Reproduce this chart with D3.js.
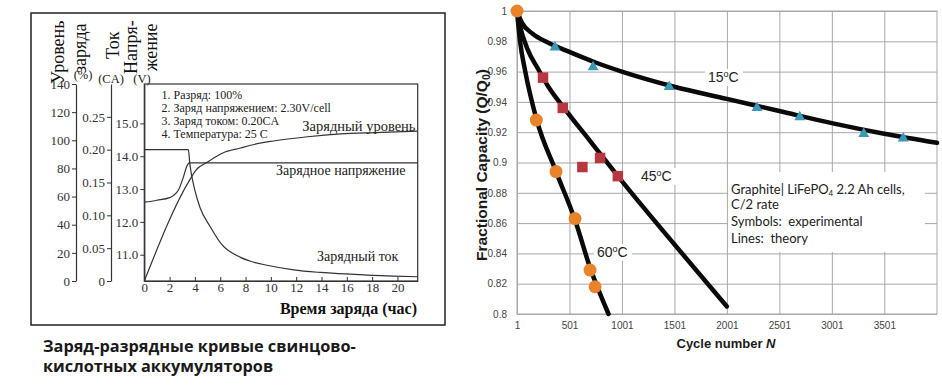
<!DOCTYPE html>
<html>
<head>
<meta charset="utf-8">
<script src="https://cdn.jsdelivr.net/npm/d3@7"></script>
<style>
	body { margin: 0; background: #fff; }
	svg { display: block; }
	.serif { font-family: "Liberation Serif", "DejaVu Serif", serif; }
	.sans { font-family: "Liberation Sans", Arial, sans-serif; }
</style>
</head>
<body>
<svg id="chart" width="942" height="391"></svg>
<script>
// ---- left panel: lead-acid charge curves ----
const hourTicks = [0, 2, 4, 6, 8, 10, 12, 14, 16, 18, 20]
const pctTicks = [0, 20, 40, 60, 80, 100, 120, 140]
const caTicks = [0, 0.05, 0.10, 0.15, 0.20, 0.25]
const voltTicks = [11, 12, 13, 14, 15]

const levelHours = [0, 3.6, 4.1, 4.9, 6.2, 7.6, 8.4, 10.2, 12.9, 15.5, 18.2, 21.6]
const levelPct = [0, 72, 79, 84, 91, 94.5, 96.5, 99.5, 102.5, 104.5, 105.5, 106.5]

const voltHours = [0, 1, 2, 2.3, 2.7, 3.1, 3.35, 3.56, 21.6]
const voltValues = [12.6, 12.66, 12.74, 12.8, 12.97, 13.38, 13.69, 13.8, 13.8]

const currHours = [0, 3.48, 3.6, 4.0, 4.4, 5.2, 6.1, 7.6, 8.4, 9.7, 11.8, 13.9, 17.6, 19.7, 21.6]
const currValues = [0.2, 0.2, 0.178, 0.138, 0.112, 0.083, 0.056, 0.036, 0.030, 0.024, 0.017, 0.013, 0.009, 0.0075, 0.0065]

const notes = ['1. Разряд: 100%', '2. Заряд напряжением: 2.30V/cell', '3. Заряд током: 0.20CA', '4. Температура: 25 C']

// ---- right panel: LiFePO4 capacity fade ----
const cycleTicks = [1, 501, 1001, 1501, 2001, 2501, 3001, 3501]
const capTicks = [0.8, 0.82, 0.84, 0.86, 0.88, 0.9, 0.92, 0.94, 0.96, 0.98, 1]

const th15Cycles = [1, 50, 150, 300, 500, 750, 1000, 1500, 2000, 2500, 3000, 3500, 4003]
const th15Cap = [1.0, 0.992, 0.985, 0.979, 0.973, 0.966, 0.960, 0.950, 0.942, 0.934, 0.926, 0.919, 0.913]
const th45Cycles = [1, 30, 100, 200, 300, 437, 700, 962, 1500, 2001]
const th45Cap = [1.0, 0.99, 0.975, 0.962, 0.950, 0.937, 0.914, 0.891, 0.846, 0.805]
const th60Cycles = [1, 30, 80, 185, 373, 554, 700, 873]
const th60Cap = [1.0, 0.98, 0.96, 0.929, 0.894, 0.862, 0.830, 0.8]

const exp15Cycles = [363, 726, 1451, 2288, 2695, 3305, 3681]
const exp15Cap = [0.976, 0.963, 0.950, 0.936, 0.930, 0.919, 0.916]
const exp45Cycles = [249, 437, 624, 793, 962]
const exp45Cap = [0.956, 0.936, 0.897, 0.903, 0.891]
const exp60Cycles = [1, 185, 373, 554, 697, 745]
const exp60Cap = [1.0, 0.928, 0.894, 0.863, 0.829, 0.818]

const zip = (xs, ys) => xs.map((x, i) => [x, ys[i]])

const svg = d3.select('#chart')

// ================= left panel =================
const left = svg.append('g')
left.append('rect').attr('x', 31).attr('y', 13).attr('width', 414).attr('height', 312)
	.attr('fill', 'none').attr('stroke', '#222').attr('stroke-width', 1.5)

const lx = d3.scaleLinear().domain([0, 21.6]).range([144.3, 417.7])
const lyPct = d3.scaleLinear().domain([0, 140]).range([281, 84])
const lyCA = d3.scaleLinear().domain([0, 0.3]).range([281, 84])
const lyV = d3.scaleLinear().domain([10.2, 16.2]).range([281, 84])

left.append('rect').attr('x', lx(0)).attr('y', 84).attr('width', lx(21.6) - lx(0)).attr('height', 281 - 84)
	.attr('fill', 'none').attr('stroke', '#333').attr('stroke-width', 1.2)

function styleLeftAxis(g) {
	g.attr('class', 'serif').attr('font-size', 13)
	g.select('.domain').attr('stroke', '#333').attr('stroke-width', 1.2)
	g.selectAll('.tick line').attr('stroke', '#333')
	g.selectAll('.tick text').attr('fill', '#333').attr('font-family', null)
}

left.append('g').attr('transform', 'translate(76,0)')
	.call(d3.axisLeft(lyPct).tickValues(pctTicks).tickSize(4).tickSizeOuter(0).tickPadding(2))
	.call(styleLeftAxis)
left.append('g').attr('transform', 'translate(111,0)')
	.call(d3.axisLeft(lyCA).tickValues(caTicks).tickSize(4).tickSizeOuter(0).tickPadding(2)
		.tickFormat(d => d === 0 ? '0' : d3.format('.2f')(d)))
	.call(styleLeftAxis)
left.append('g').attr('transform', `translate(${lx(0)},0)`)
	.call(d3.axisLeft(lyV).tickValues(voltTicks).tickSize(4).tickSizeOuter(0).tickPadding(2).tickFormat(d3.format('.1f')))
	.call(styleLeftAxis)
left.append('g').attr('transform', 'translate(0,281)')
	.call(d3.axisBottom(lx).tickValues(hourTicks).tickSize(-4).tickSizeOuter(0).tickPadding(2))
	.call(styleLeftAxis)

const curve = d3.curveMonotoneX
left.append('path').datum(zip(levelHours, levelPct))
	.attr('d', d3.line().x(d => lx(d[0])).y(d => lyPct(d[1])).curve(curve))
	.attr('fill', 'none').attr('stroke', '#333').attr('stroke-width', 1.2)
left.append('path').datum(zip(voltHours, voltValues))
	.attr('d', d3.line().x(d => lx(d[0])).y(d => lyV(d[1])).curve(curve))
	.attr('fill', 'none').attr('stroke', '#333').attr('stroke-width', 1.2)
left.append('path').datum(zip(currHours, currValues))
	.attr('d', d3.line().x(d => lx(d[0])).y(d => lyCA(d[1])).curve(curve))
	.attr('fill', 'none').attr('stroke', '#333').attr('stroke-width', 1.2)

// notes inside the plot
left.selectAll('text.note').data(notes).join('text')
	.attr('class', 'note serif').attr('x', 161.5).attr('y', (d, i) => 98.5 + i * 13)
	.attr('font-size', 12).attr('fill', '#222').text(d => d)

const curveLabels = [
	{text: 'Зарядный уровень', x: 415.5, y: 131, size: 14.5, anchor: 'end'},
	{text: 'Зарядное напряжение', x: 276, y: 175, size: 14, anchor: 'start'},
	{text: 'Зарядный ток', x: 317, y: 260.5, size: 14, anchor: 'start'},
]
left.selectAll('text.clabel').data(curveLabels).join('text')
	.attr('class', 'clabel serif').attr('x', d => d.x).attr('y', d => d.y)
	.attr('text-anchor', d => d.anchor)
	.attr('font-size', d => d.size).attr('fill', '#222').text(d => d.text)

left.append('text').attr('class', 'serif').attr('x', 417).attr('y', 314)
	.attr('text-anchor', 'end').attr('font-size', 16).attr('font-weight', 'bold').attr('fill', '#111')
	.text('Время заряда (час)')

// rotated axis titles
const axisTitles = [
	{text: 'Уровень', x: 64, y: 84},
	{text: 'заряда', x: 86, y: 73},
	{text: 'Ток', x: 118.5, y: 59},
	{text: 'Напря-', x: 137, y: 74},
	{text: 'жение', x: 157, y: 71},
]
left.selectAll('text.atitle').data(axisTitles).join('text')
	.attr('class', 'atitle serif').attr('transform', d => `translate(${d.x},${d.y}) rotate(-90)`)
	.attr('font-size', 18).attr('fill', '#111').text(d => d.text)

const units = [
	{text: '(%)', x: 83, y: 79},
	{text: '(CA)', x: 111, y: 83},
	{text: '(V)', x: 142, y: 83},
]
left.selectAll('text.unit').data(units).join('text')
	.attr('class', 'unit serif').attr('x', d => d.x).attr('y', d => d.y)
	.attr('text-anchor', 'middle').attr('font-size', 12.5).attr('fill', '#222').text(d => d.text)

// caption
const caption = ['Заряд-разрядные кривые свинцово-', 'кислотных аккумуляторов']
svg.selectAll('text.caption').data(caption).join('text')
	.attr('class', 'caption').attr('x', 43).attr('y', (d, i) => 351.5 + i * 20)
	.attr('font-family', '"Open Sans", "Noto Sans", sans-serif').attr('font-weight', 'bold')
	.attr('font-size', 16.3).attr('fill', '#1a1a1a').text(d => d)

// ================= right panel =================
const right = svg.append('g')
const rx = d3.scaleLinear().domain([1, 4003]).range([517, 937])
const ry = d3.scaleLinear().domain([0.8, 1]).range([314, 11])
const gridColor = '#a8a8a8'

right.append('g').attr('transform', 'translate(0,314)')
	.call(d3.axisBottom(rx).tickValues(cycleTicks).tickSize(-(314 - 11)).tickFormat(''))
	.call(g => g.select('.domain').remove())
	.call(g => g.selectAll('.tick line').attr('stroke', gridColor))
right.append('g').attr('transform', 'translate(517,0)')
	.call(d3.axisLeft(ry).tickValues(capTicks).tickSize(-(937 - 517)).tickFormat(''))
	.call(g => g.select('.domain').remove())
	.call(g => g.selectAll('.tick line').attr('stroke', gridColor))
right.append('rect').attr('x', 517).attr('y', 11).attr('width', 937 - 517).attr('height', 314 - 11)
	.attr('fill', 'none').attr('stroke', gridColor)

right.append('g').attr('transform', 'translate(0,314)')
	.call(d3.axisBottom(rx).tickValues(cycleTicks).tickSize(0).tickPadding(8).tickFormat(d => String(d)))
	.call(g => g.select('.domain').remove())
	.call(g => g.selectAll('text').attr('font-family', '"Liberation Sans", Arial, sans-serif')
		.attr('font-size', 10).attr('fill', '#444'))
right.append('g').attr('transform', 'translate(517,0)')
	.call(d3.axisLeft(ry).tickValues(capTicks).tickSize(0).tickPadding(10).tickFormat(d => String(+d.toFixed(2))))
	.call(g => g.select('.domain').remove())
	.call(g => g.selectAll('text').attr('font-family', '"Liberation Sans", Arial, sans-serif')
		.attr('font-size', 10).attr('fill', '#444'))

// annotation box and label backgrounds hide the grid
right.append('rect').attr('x', 728).attr('y', 172).attr('width', 197).attr('height', 80).attr('fill', '#fff')

const tempLabels = [
	{t: '15', x: 708, y: 82},
	{t: '45', x: 641, y: 181},
	{t: '60', x: 597, y: 257},
]
right.selectAll('rect.lbg').data(tempLabels).join('rect')
	.attr('class', 'lbg').attr('x', d => d.x - 3).attr('y', d => d.y - 13).attr('width', 38).attr('height', 17)
	.attr('fill', '#fff')

// theory lines
const theory = [zip(th15Cycles, th15Cap), zip(th45Cycles, th45Cap), zip(th60Cycles, th60Cap)]
right.selectAll('path.theory').data(theory).join('path')
	.attr('class', 'theory')
	.attr('d', d3.line().x(d => rx(d[0])).y(d => ry(d[1])).curve(d3.curveMonotoneX))
	.attr('fill', 'none').attr('stroke', '#0a0a0a').attr('stroke-width', 4.5)
	.attr('stroke-linecap', 'round').attr('stroke-linejoin', 'round')

// experimental symbols
right.selectAll('path.tri').data(zip(exp15Cycles, exp15Cap)).join('path')
	.attr('class', 'tri').attr('transform', d => `translate(${rx(d[0])},${ry(d[1])})`)
	.attr('d', d3.symbol(d3.symbolTriangle, 52)).attr('fill', '#3a98b9')
right.selectAll('path.sq').data(zip(exp45Cycles, exp45Cap)).join('path')
	.attr('class', 'sq').attr('transform', d => `translate(${rx(d[0])},${ry(d[1])})`)
	.attr('d', d3.symbol(d3.symbolSquare, 110)).attr('fill', '#b8373f')
right.selectAll('circle.dot').data(zip(exp60Cycles, exp60Cap)).join('circle')
	.attr('class', 'dot').attr('cx', d => rx(d[0])).attr('cy', d => ry(d[1])).attr('r', 6.5)
	.attr('fill', '#e8822b')

// temperature labels
right.selectAll('text.temp').data(tempLabels).join('text')
	.attr('class', 'temp sans').attr('x', d => d.x).attr('y', d => d.y)
	.attr('font-size', 14).attr('fill', '#222')
	.call(t => t.append('tspan').text(d => d.t))
	.call(t => t.append('tspan').attr('font-size', 9).attr('dy', -5).text('o'))
	.call(t => t.append('tspan').attr('dy', 5).text('C'))

// annotation text
const boxFont = 'Lato, "Open Sans", sans-serif'
const box = right.append('g').attr('font-family', boxFont).attr('font-size', 13).attr('fill', '#222')
const l1 = box.append('text').attr('x', 731).attr('y', 193.5)
l1.append('tspan').text('Graphite| LiFePO')
l1.append('tspan').attr('font-size', 8).attr('dy', 2).text('4')
l1.append('tspan').attr('dy', -2).text(' 2.2 Ah cells,')
const boxLines = ['C/2 rate', 'Symbols:  experimental', 'Lines:  theory']
box.selectAll('text.bl').data(boxLines).join('text')
	.attr('class', 'bl').attr('x', 731).attr('y', (d, i) => 208.5 + i * 17)
	.attr('xml:space', 'preserve').style('white-space', 'pre').text(d => d)

// axis titles
right.append('text').attr('class', 'sans').attr('x', 726).attr('y', 348)
	.attr('text-anchor', 'middle').attr('font-size', 13).attr('font-weight', 'bold').attr('fill', '#1a1a1a')
	.call(t => t.append('tspan').text('Cycle number '))
	.call(t => t.append('tspan').attr('font-style', 'italic').text('N'))
right.append('text').attr('class', 'sans').attr('transform', 'translate(486.5,165) rotate(-90)')
	.attr('text-anchor', 'middle').attr('font-size', 15.5).attr('font-weight', 'bold').attr('fill', '#1a1a1a')
	.call(t => t.append('tspan').text('Fractional Capacity (Q/Q'))
	.call(t => t.append('tspan').attr('font-size', 10.5).attr('dy', 3).text('0'))
	.call(t => t.append('tspan').attr('dy', -3).text(')'))
</script>
</body>
</html>
